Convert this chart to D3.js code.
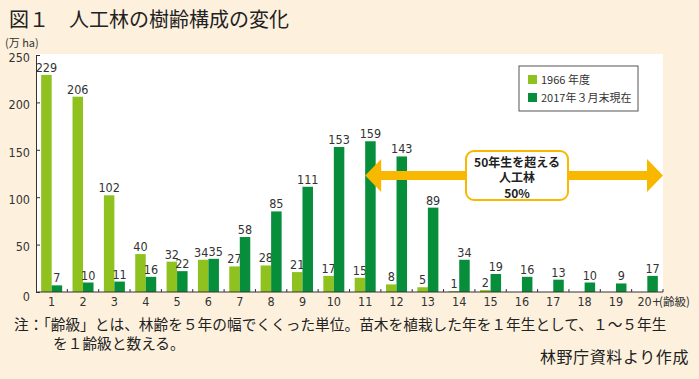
<!DOCTYPE html>
<html>
<head>
<meta charset="utf-8">
<script src="https://cdn.jsdelivr.net/npm/d3@7"></script>
<style>
  body { margin: 0; background: #fdf1de; }
  svg { display: block; }
</style>
</head>
<body>
<svg id="chart"></svg>
<script>
/* globals d3 */

const width = 699;
const height = 379;

// age classes (齢級)
const classes = ["1","2","3","4","5","6","7","8","9","10","11","12","13","14","15","16","17","18","19","20+"];
const values1966 = [229,206,102,40,32,34,27,28,21,17,15,8,5,1,2,0,0,0,0,0];
const values2017 = [7,10,11,16,22,35,58,85,111,153,159,143,89,34,19,16,13,10,9,17];
const seriesNames = ["1966 年度", "2017年３月末現在"];
const yTicks = [0, 50, 100, 150, 200, 250];

const light = "#8fc21f";
const dark = "#078e3b";
const yellow = "#f8b800";
const jp = "'Noto Sans CJK JP', sans-serif";
const num = "'Liberation Sans Narrow', 'DejaVu Sans Condensed', sans-serif";

const marginLeft = 36, marginRight = 36, marginTop = 55, plotBottom = 292;

const svg = d3.select("#chart")
    .attr("width", width)
    .attr("height", height)
    .attr("viewBox", [0, 0, width, height]);

svg.append("rect")
    .attr("width", width).attr("height", height)
    .attr("fill", "#fdf1de");

const x = d3.scaleBand(classes, [marginLeft, width - marginRight]);
const y = d3.scaleLinear([0, 250], [plotBottom, marginTop]);
const barW = 10.5;

// white plot area
svg.append("rect")
    .attr("x", marginLeft)
    .attr("y", y(250) - 1)
    .attr("width", width - marginRight - marginLeft)
    .attr("height", plotBottom - y(250) + 1)
    .attr("fill", "#fff");

// title
svg.append("text")
    .attr("x", 9).attr("y", 27)
    .attr("font-family", jp)
    .attr("font-size", 20)
    .attr("fill", "#222")
    .text("図１　人工林の樹齢構成の変化");

svg.append("text")
    .attr("x", 5).attr("y", 46.5)
    .attr("font-family", jp)
    .attr("font-size", 11)
    .attr("fill", "#333")
    .text("(万 ha)");

// bars
const series = [
  {vals: values1966, color: light, off: -barW, nudge: {"6": -2}},
  {vals: values2017, color: dark, off: 0, nudge: {"6": 2}}
];

series.forEach(s => {
  const g = svg.append("g");
  g.selectAll("rect")
    .data(classes)
    .join("rect")
      .attr("x", (d, i) => x(d) + x.bandwidth() / 2 + s.off)
      .attr("y", (d, i) => y(s.vals[i]))
      .attr("width", barW)
      .attr("height", (d, i) => plotBottom - y(s.vals[i]))
      .attr("fill", s.color);
  g.selectAll("text")
    .data(classes.map((d, i) => [d, s.vals[i]]).filter(d => d[1] > 0))
    .join("text")
      .attr("x", d => x(d[0]) + x.bandwidth() / 2 + s.off + barW / 2 + (s.nudge[d[0]] || 0))
      .attr("y", d => y(d[1]) - 3)
      .attr("text-anchor", "middle")
      .attr("font-family", num)
      .attr("font-size", 12.5)
      .attr("fill", "#333")
      .text(d => d[1]);
});

// y axis
const yAxis = svg.append("g")
    .attr("transform", `translate(${marginLeft},0)`)
    .call(d3.axisLeft(y).tickValues(yTicks).tickSize(-4).tickPadding(6))
    .call(g => g.select(".domain").attr("stroke", "#333"));
yAxis.selectAll(".tick line").attr("stroke", "#333");
yAxis.selectAll(".tick text")
    .attr("font-family", num)
    .attr("font-size", 12.5)
    .attr("fill", "#333")
    .attr("dy", d => d === 0 ? "0.7em" : "0.5em");

// x axis
svg.append("line")
    .attr("x1", marginLeft).attr("x2", width - marginRight)
    .attr("y1", plotBottom).attr("y2", plotBottom)
    .attr("stroke", "#333");
svg.append("g")
  .selectAll("line")
  .data(classes.slice(1).concat(["end"]))
  .join("line")
    .attr("x1", d => d === "end" ? width - marginRight : x(d))
    .attr("x2", d => d === "end" ? width - marginRight : x(d))
    .attr("y1", plotBottom).attr("y2", plotBottom - 3)
    .attr("stroke", "#333");
svg.append("g")
  .selectAll("text")
  .data(classes)
  .join("text")
    .attr("x", d => x(d) + x.bandwidth() / 2 + (d === "20+" ? 2 : 0))
    .attr("y", plotBottom + 14)
    .attr("text-anchor", "middle")
    .attr("font-family", num)
    .attr("font-size", 12.5)
    .attr("fill", "#333")
    .text(d => d);
svg.append("text")
    .attr("x", 659).attr("y", plotBottom + 14)
    .attr("font-family", jp)
    .attr("font-size", 11.5)
    .attr("fill", "#333")
    .text("(齢級)");

// legend
const lg = svg.append("g").attr("transform", "translate(519,66)");
lg.append("rect")
    .attr("width", 119).attr("height", 45)
    .attr("fill", "#fff").attr("stroke", "#555").attr("stroke-width", 1);
seriesNames.forEach((name, i) => {
  lg.append("rect")
      .attr("x", 9).attr("y", 9 + i * 18)
      .attr("width", 9).attr("height", 9)
      .attr("fill", i === 0 ? light : dark);
  lg.append("text")
      .attr("x", 22).attr("y", 18 + i * 18)
      .attr("font-family", jp)
      .attr("font-size", 11)
      .attr("fill", "#333")
      .text(name);
});

// double arrow: from class 11 to the right edge
const ay = 175.5, shaft = 9, head = 33, headLen = 16;
const ax0 = x("11") + x.bandwidth() / 2, ax1 = width - marginRight;
svg.append("path")
    .attr("fill", yellow)
    .attr("d", `M${ax0},${ay}
      L${ax0 + headLen},${ay - head / 2} L${ax0 + headLen},${ay - shaft / 2}
      L${ax1 - headLen},${ay - shaft / 2} L${ax1 - headLen},${ay - head / 2}
      L${ax1},${ay} L${ax1 - headLen},${ay + head / 2} L${ax1 - headLen},${ay + shaft / 2}
      L${ax0 + headLen},${ay + shaft / 2} L${ax0 + headLen},${ay + head / 2} Z`);

svg.append("rect")
    .attr("x", 466).attr("y", 151)
    .attr("width", 102).attr("height", 49)
    .attr("rx", 8)
    .attr("fill", "#fff").attr("stroke", yellow).attr("stroke-width", 2);
["50年生を超える", "人工林", "50%"].forEach((t, i) => {
  svg.append("text")
      .attr("x", 517).attr("y", 166.5 + i * 15.5)
      .attr("text-anchor", "middle")
      .attr("font-family", jp)
      .attr("font-size", 12)
      .attr("font-weight", "bold")
      .attr("fill", "#222")
      .text(t);
});

// notes
svg.append("text")
    .attr("x", 14).attr("y", 330)
    .attr("font-family", jp)
    .attr("font-size", 14.7)
    .attr("fill", "#222")
    .text("注：「齢級」とは、林齢を５年の幅でくくった単位。苗木を植栽した年を１年生として、１～５年生");
svg.append("text")
    .attr("x", 53).attr("y", 349)
    .attr("font-family", jp)
    .attr("font-size", 14.7)
    .attr("fill", "#222")
    .text("を１齢級と数える。");
svg.append("text")
    .attr("x", 689).attr("y", 363)
    .attr("text-anchor", "end")
    .attr("font-family", jp)
    .attr("font-size", 16)
    .attr("letter-spacing", 0.6)
    .attr("fill", "#222")
    .text("林野庁資料より作成");
</script>
</body>
</html>
